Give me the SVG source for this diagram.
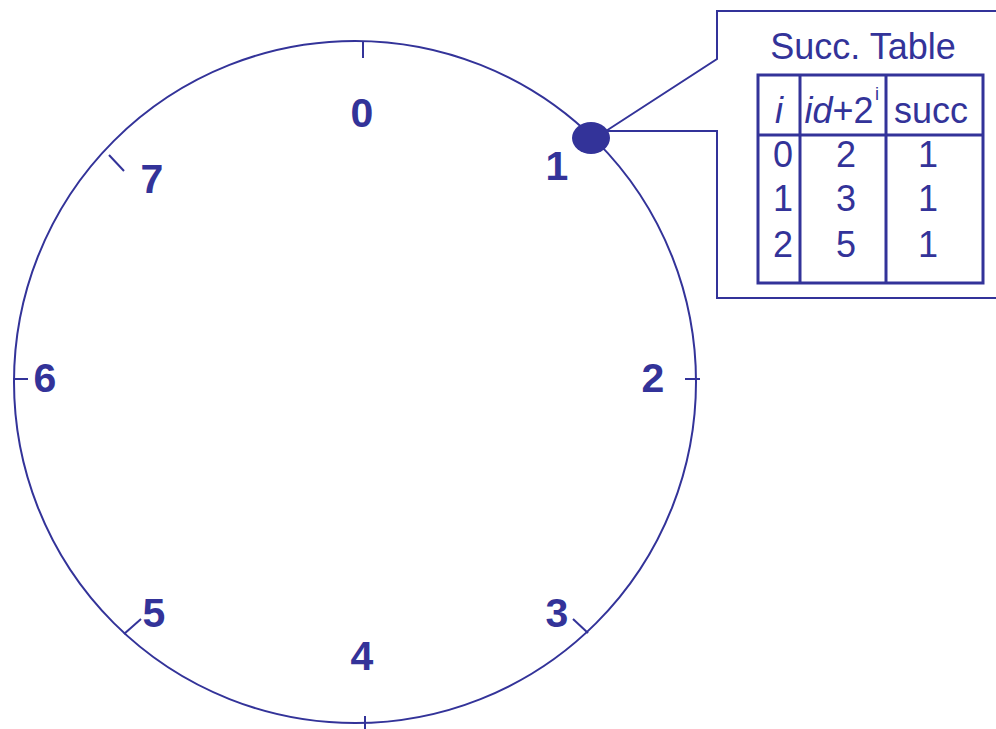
<svg xmlns="http://www.w3.org/2000/svg" width="996" height="729" viewBox="0 0 996 729">
<style>
.ln{fill:none;stroke:#333399;stroke-width:2}
.tb{fill:none;stroke:#333399;stroke-width:3}
.lbl{font-family:"Liberation Sans",Arial,sans-serif;font-weight:bold;font-size:41px;fill:#333399;text-anchor:middle}
.t{font-family:"Liberation Sans",Arial,sans-serif;font-size:36px;fill:#333399;text-anchor:middle}
</style>
<rect width="996" height="729" fill="#fff"/>
<g id="ring">
<circle class="ln" cx="355" cy="382" r="341"/>
<line class="ln" x1="363" y1="42" x2="363" y2="58"/>
<line class="ln" x1="365" y1="716" x2="365" y2="729"/>
<line class="ln" x1="13" y1="379" x2="28" y2="379"/>
<line class="ln" x1="685" y1="379" x2="700" y2="379"/>
<line class="ln" x1="109" y1="155" x2="124" y2="171"/>
<line class="ln" x1="124" y1="634" x2="141" y2="619"/>
<line class="ln" x1="573" y1="619" x2="588" y2="633"/>
</g>
<g id="labels">
<text class="lbl" x="362" y="127">0</text>
<text class="lbl" x="557" y="180">1</text>
<text class="lbl" x="653" y="392">2</text>
<text class="lbl" x="557" y="627">3</text>
<text class="lbl" x="362" y="670">4</text>
<text class="lbl" x="154" y="627">5</text>
<text class="lbl" x="45" y="392">6</text>
<text class="lbl" x="152" y="193">7</text>
</g>
<g id="connectors">
<polyline class="ln" points="608,131 717,131 717,298 998,298"/>
<polyline class="ln" points="998,11 717,11 717,59 606,131"/>
</g>
<g id="node1">
<ellipse cx="591" cy="138" rx="19" ry="16" fill="#333399"/>
</g>
<g id="succ-table">
<text class="t" x="863" y="59">Succ. Table</text>
<rect class="tb" x="758" y="75" width="225" height="208"/>
<line class="tb" x1="758" y1="135" x2="983" y2="135"/>
<line class="tb" x1="800" y1="75" x2="800" y2="283"/>
<line class="tb" x1="886" y1="75" x2="886" y2="283"/>
<text class="t" x="779" y="123" font-style="italic">i</text>
<text class="t" x="839" y="123"><tspan font-style="italic">id</tspan>+2</text>
<text x="877" y="100" font-family="Liberation Sans,Arial,sans-serif" font-size="18" fill="#333399" text-anchor="middle">i</text>
<text class="t" x="931" y="123">succ</text>
<text class="t" x="783" y="167">0</text>
<text class="t" x="846" y="167">2</text>
<text class="t" x="928" y="167">1</text>
<text class="t" x="783" y="211">1</text>
<text class="t" x="846" y="211">3</text>
<text class="t" x="928" y="211">1</text>
<text class="t" x="783" y="257">2</text>
<text class="t" x="846" y="257">5</text>
<text class="t" x="928" y="257">1</text>
</g>
</svg>
